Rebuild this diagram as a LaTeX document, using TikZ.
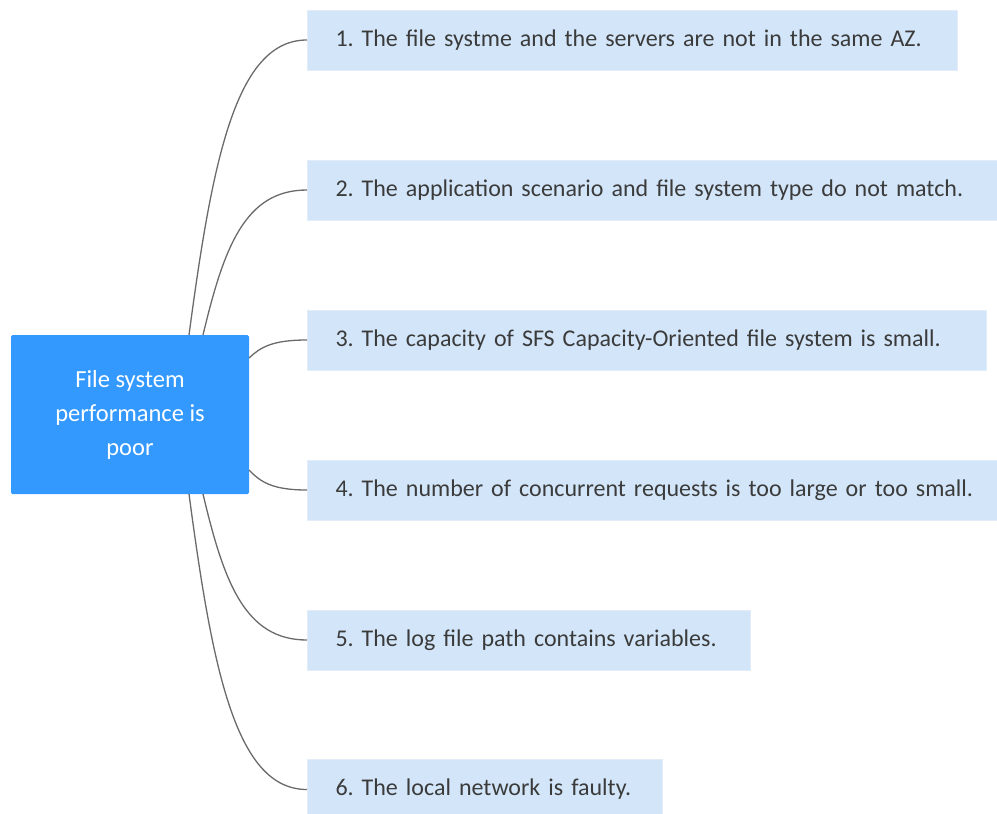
\documentclass[tikz,border=0pt]{standalone}
\usepackage{fontspec}
\setmainfont{Carlito}
\frenchspacing
\usepackage{xcolor}
\usepackage{tikz}
\usetikzlibrary{calc}
\usetikzlibrary{positioning}
\definecolor{rootblue}{HTML}{3399FF}
\definecolor{causefill}{HTML}{D3E6F9}
\definecolor{causeline}{HTML}{E2EDF9}
\definecolor{causetext}{HTML}{3B3B3B}
\definecolor{branchgray}{HTML}{6A6A6A}
\tikzstyle{root} = [rectangle, fill=rootblue, text=white, rounded corners=1.5pt, minimum width=238pt, minimum height=159pt, align=center, font=\fontsize{24.5}{34}\selectfont]
\tikzstyle{cause} = [rectangle, anchor=west, fill=causefill, draw=causeline, line width=1pt, minimum height=60pt, inner xsep=28pt, align=left, text=causetext, font=\fontsize{24}{30}\selectfont]
\tikzstyle{branch} = [-, draw=branchgray, line width=1.3pt]

\begin{document}
\begin{tikzpicture}[x=1pt, y=-1pt]
\useasboundingbox (0,0) rectangle (997,814);
\node [root] (R) at (130, 414.5) {File system\\performance is\\poor};
\node [cause, text width=594pt] (C1) at (307, 40) {\mbox{1. The file systme and the servers are not in the same AZ.}};
\node [cause, text width=634pt] (C2) at (307, 190) {\mbox{2. The application scenario and file system type do not match.}};
\node [cause, text width=623pt] (C3) at (307, 340) {\mbox{3. The capacity of SFS Capacity-Oriented file system is small.}};
\node [cause, text width=634pt] (C4) at (307, 490) {\mbox{4. The number of concurrent requests is too large or too small.}};
\node [cause, text width=387pt] (C5) at (307, 640) {\mbox{5. The log file path contains variables.}};
\node [cause, text width=299pt] (C6) at (307, 789.5) {\mbox{6. The local network is faulty.}};
% branch roots on the border of R
\coordinate (R1) at (189, 335);
\coordinate (R2) at (203, 335);
\coordinate (R3) at (249, 358);
\coordinate (R4) at (249, 470);
\coordinate (R5) at (203, 494);
\coordinate (R6) at (189, 494);
\draw [branch] (R1) .. controls +(23.6,-177) and +(-70.8,0) .. (C1.west);
\draw [branch] (R2) .. controls +(20.8,-87) and +(-62.4,0) .. (C2.west);
\draw [branch] (R3) .. controls +(11.6,-10.8) and +(-34.8,0) .. (C3.west);
\draw [branch] (R4) .. controls +(11.6,12) and +(-34.8,0) .. (C4.west);
\draw [branch] (R5) .. controls +(20.8,87.6) and +(-62.4,0) .. (C5.west);
\draw [branch] (R6) .. controls +(23.6,177.6) and +(-70.8,0) .. (C6.west);
\end{tikzpicture}
\end{document}
